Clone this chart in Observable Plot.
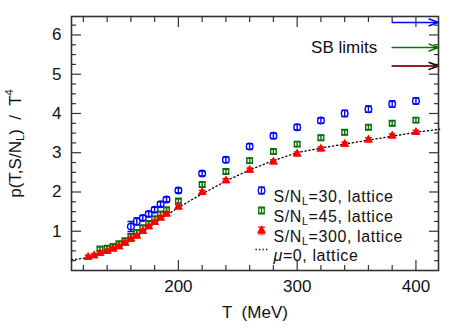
<!DOCTYPE html>
<html><head><meta charset="utf-8">
<script src="https://cdn.jsdelivr.net/npm/d3@7"></script>
<script src="https://cdn.jsdelivr.net/npm/@observablehq/plot@0.6"></script>
<style>
body{margin:0;background:#fff;}
svg{font-family:"Liberation Sans",Arial,sans-serif;}
</style>
</head><body><div id="chart"></div>
<script>
// ---- data ----
const tBlue  = [160, 165, 170, 175, 180, 185, 190, 200, 220, 240, 260, 280, 300, 320, 340, 360, 380, 400];
const pBlue  = [1.12, 1.25, 1.34, 1.44, 1.55, 1.69, 1.81, 2.04, 2.47, 2.82, 3.16, 3.43, 3.65, 3.82, 4.00, 4.11, 4.24, 4.32];
const eBlue  = [0.13, 0.09, 0.06, 0.06, 0.06, 0.06, 0.06, 0.06, 0.06, 0.07, 0.07, 0.07, 0.07, 0.07, 0.08, 0.08, 0.08, 0.08];

const tGreen = [134, 140, 145, 150, 155, 160, 165, 170, 175, 180, 185, 190, 200, 220, 240, 260, 280, 300, 320, 340, 360, 380, 400];
const pGreen = [0.55, 0.57, 0.61, 0.68, 0.76, 0.87, 0.97, 1.09, 1.20, 1.32, 1.44, 1.55, 1.77, 2.19, 2.52, 2.80, 3.03, 3.22, 3.38, 3.52, 3.65, 3.75, 3.83];
const eGreen = [0.05, 0.05, 0.05, 0.05, 0.05, 0.05, 0.05, 0.05, 0.05, 0.05, 0.05, 0.05, 0.05, 0.06, 0.06, 0.06, 0.06, 0.06, 0.06, 0.06, 0.06, 0.06, 0.06];

const tRed   = [124, 129, 134, 140, 145, 150, 155, 160, 165, 170, 175, 180, 185, 190, 200, 220, 240, 260, 280, 300, 320, 340, 360, 380, 400];
const pRed   = [0.34, 0.38, 0.44, 0.49, 0.55, 0.61, 0.70, 0.80, 0.88, 1.00, 1.12, 1.23, 1.34, 1.44, 1.62, 1.99, 2.29, 2.56, 2.77, 2.97, 3.10, 3.22, 3.33, 3.43, 3.52];
const eRed   = [0.05, 0.05, 0.05, 0.05, 0.05, 0.05, 0.05, 0.05, 0.05, 0.05, 0.05, 0.05, 0.05, 0.05, 0.05, 0.05, 0.05, 0.05, 0.05, 0.05, 0.05, 0.05, 0.05, 0.05, 0.05];

const tMu0   = [110, 120, 130, 140, 150, 160, 170, 180, 190, 200, 210, 220, 240, 260, 280, 300, 320, 340, 360, 380, 400, 420];
const pMu0   = [0.27, 0.31, 0.38, 0.47, 0.59, 0.77, 0.98, 1.20, 1.41, 1.60, 1.78, 1.95, 2.28, 2.56, 2.80, 3.00, 3.12, 3.22, 3.32, 3.42, 3.52, 3.60];

const sbNames  = ["S/N=30", "S/N=45", "mu=0", "S/N=300"];
const sbValues = [6.32, 5.68, 5.21, 5.21];
const sbT      = [380, 419];   // arrow from / to (MeV)

const legendLabels = ["S/N_L=30, lattice", "S/N_L=45, lattice", "S/N_L=300, lattice", "μ=0, lattice"];
const xMajorTicks = [200, 300, 400];
const xMinorTicks = [120, 140, 160, 180, 220, 240, 260, 280, 320, 340, 360, 380];
const yMajorTicks = [1, 2, 3, 4, 5, 6];
const yMinorTicks = d3.range(0.25, 6.3, 0.25).filter(v => Math.abs(v - Math.round(v)) > 0.01);

// ---- styles ----
const colors  = ["#0000ff", "#0a700a", "#ff0000"];
const symbols = ["circle", "square", "triangle"];
const fills   = ["none", "none", "#ff0000"];
const sizes   = [3.3, 3.1, 2.5];
const axisColor = "#333";

const seriesT = [tBlue, tGreen, tRed], seriesP = [pBlue, pGreen, pRed], seriesE = [eBlue, eGreen, eRed];
const rows = seriesT.map((ts, s) => ts.map((T, i) => ({T, p: seriesP[s][i], e: seriesE[s][i], s})));
const mu0 = tMu0.map((T, i) => ({T, p: pMu0[i]}));
const sb = sbNames.map((name, i) => ({name, v: sbValues[i]}));

const cap = {draw(ctx, size) { const r = Math.sqrt(size / Math.PI); ctx.moveTo(-r, 0); ctx.lineTo(r, 0); }};
const errGlyph = {draw(ctx, size) { const r = Math.sqrt(size / Math.PI);
  ctx.moveTo(-r, -r); ctx.lineTo(r, -r); ctx.moveTo(0, -r); ctx.lineTo(0, r); ctx.moveTo(-r, r); ctx.lineTo(r, r); }};
const hline = cap;

const marks = [];
// ticks (inward, all four sides)
const tickOpts = {tickFormat: () => "", label: null, stroke: axisColor, strokeWidth: 1.2};
marks.push(
  Plot.axisX(xMajorTicks, {...tickOpts, anchor: "bottom", tickSize: 10, dy: -10}),
  Plot.axisX(xMinorTicks, {...tickOpts, anchor: "bottom", tickSize: 5, dy: -5}),
  Plot.axisX(xMajorTicks, {...tickOpts, anchor: "top", tickSize: 10, dy: 10}),
  Plot.axisX(xMinorTicks, {...tickOpts, anchor: "top", tickSize: 5, dy: 5}),
  Plot.axisY(yMajorTicks, {...tickOpts, anchor: "left", tickSize: 10, dx: 10}),
  Plot.axisY(yMinorTicks, {...tickOpts, anchor: "left", tickSize: 5, dx: 5}),
  Plot.axisY(yMajorTicks, {...tickOpts, anchor: "right", tickSize: 10, dx: -10}),
  Plot.axisY(yMinorTicks, {...tickOpts, anchor: "right", tickSize: 5, dx: -5}),
  Plot.axisX(xMajorTicks, {anchor: "bottom", tickSize: 0, tickPadding: 9, fontSize: 17,
    label: "T  (MeV)", labelAnchor: "center", labelOffset: 47, labelArrow: "none"}),
  Plot.axisY(yMajorTicks, {anchor: "left", tickSize: 0, tickPadding: 10, fontSize: 17,
    label: "p(T,S/N_L)  /  T^4", labelAnchor: "center", labelOffset: 63, labelArrow: "none"}),
  Plot.frame({stroke: axisColor, strokeWidth: 1.6})
);
// mu = 0 dotted curve
marks.push(Plot.line(mu0, {x: "T", y: "p", stroke: "#000", strokeWidth: 1.3, strokeDasharray: "1.3,2.7"}));
// data series
rows.forEach((data, s) => {
  const c = colors[s];
  marks.push(
    Plot.ruleX(data, {x: "T", y1: d => d.p - d.e, y2: d => d.p + d.e, stroke: c, strokeWidth: 1.4}),
    Plot.dot(data, {x: "T", y: d => d.p - d.e, symbol: cap, r: 3.4, stroke: c, strokeWidth: 1.4}),
    Plot.dot(data, {x: "T", y: d => d.p + d.e, symbol: cap, r: 3.4, stroke: c, strokeWidth: 1.4}),
    Plot.dot(data, {x: "T", y: "p", symbol: symbols[s], r: sizes[s], stroke: c, fill: fills[s], strokeWidth: 1.4})
  );
});
// SB limit arrows
const sbArrows = sb.filter(d => d.name !== "S/N=300");
const sbArrowColor = {"S/N=30": "#0000ff", "S/N=45": "#0a700a", "mu=0": "#000"};
marks.push(
  Plot.arrow(sbArrows, {x1: () => sbT[0], x2: () => sbT[1], y1: "v", y2: "v", stroke: d => sbArrowColor[d.name],
    strokeWidth: 1.5, headLength: 10, headAngle: 40}),
  Plot.link(sb.filter(d => d.name === "S/N=300"), {x1: () => sbT[0], x2: () => sbT[1], y1: "v", y2: "v",
    stroke: "#ff0000", strokeWidth: 1.6, strokeDasharray: "1.5,1", insetRight: 6}),
  Plot.text([sb[1]], {x: () => sbT[0], y: "v", text: () => "SB limits", dx: -15, textAnchor: "end", fontSize: 17, fill: "#111"})
);
// legend
const legendDy = [174, 194, 214, 233];
legendLabels.forEach((label, i) => {
  const base = {frameAnchor: "top-left", dy: legendDy[i]};
  if (i < 3) {
    marks.push(
      Plot.dot([0], {...base, dx: 190, symbol: errGlyph, r: 3.4, stroke: colors[i], strokeWidth: 1.3}),
      Plot.dot([0], {...base, dx: 190, symbol: symbols[i], r: sizes[i], stroke: colors[i], fill: fills[i], strokeWidth: 1.3})
    );
  } else {
    marks.push(Plot.dot([0], {...base, dx: 191, symbol: hline, r: 7, stroke: "#000", strokeWidth: 1.3, strokeDasharray: "1.3,2.2"}));
  }
  marks.push(Plot.text([label], {...base, dx: 202, text: d => d, textAnchor: "start", fontSize: 16, fill: "#111",
    className: "legend-text"}));
});

const chart = Plot.plot({
  width: 463, height: 335,
  marginLeft: 71, marginRight: 25, marginTop: 16, marginBottom: 65,
  x: {domain: [110, 419]},
  y: {domain: [0, 6.47]},
  style: {fontFamily: "'Liberation Sans', Arial, sans-serif", fontSize: "17px", color: "#111", background: "#fff"},
  marks
});
document.getElementById("chart").appendChild(chart);

// rich text: _X subscript, ^X superscript, μ italic
const NS = "http://www.w3.org/2000/svg";
d3.select(chart).selectAll("text").each(function () {
  const node = this;
  if (node.querySelector("tspan")) return;
  const s = node.textContent;
  if (!/[_^μ]/.test(s)) return;
  const fs = parseFloat(getComputedStyle(node).fontSize) || 17;
  if (/lattice/.test(s)) node.style.letterSpacing = "0.6px";
  node.textContent = "";
  let buf = "", pendingDy = 0;
  const add = (txt, attrs) => {
    const t = document.createElementNS(NS, "tspan");
    t.textContent = txt;
    for (const k in attrs) t.setAttribute(k, attrs[k]);
    node.appendChild(t);
  };
  const flush = () => {
    if (buf) { add(buf, pendingDy ? {dy: pendingDy} : {}); buf = ""; pendingDy = 0; }
  };
  for (let i = 0; i < s.length; i++) {
    const c = s[i];
    if ((c === "_" || c === "^") && i + 1 < s.length) {
      flush();
      const shift = c === "_" ? 0.22 * fs : -0.42 * fs;
      add(s[i + 1], {dy: shift + pendingDy, "font-size": (0.66 * fs) + "px"});
      pendingDy = -shift;
      i++;
    } else if (c === "μ") {
      flush();
      add("μ", {"font-style": "italic"});
    } else buf += c;
  }
  flush();
});
</script>
</body></html>
